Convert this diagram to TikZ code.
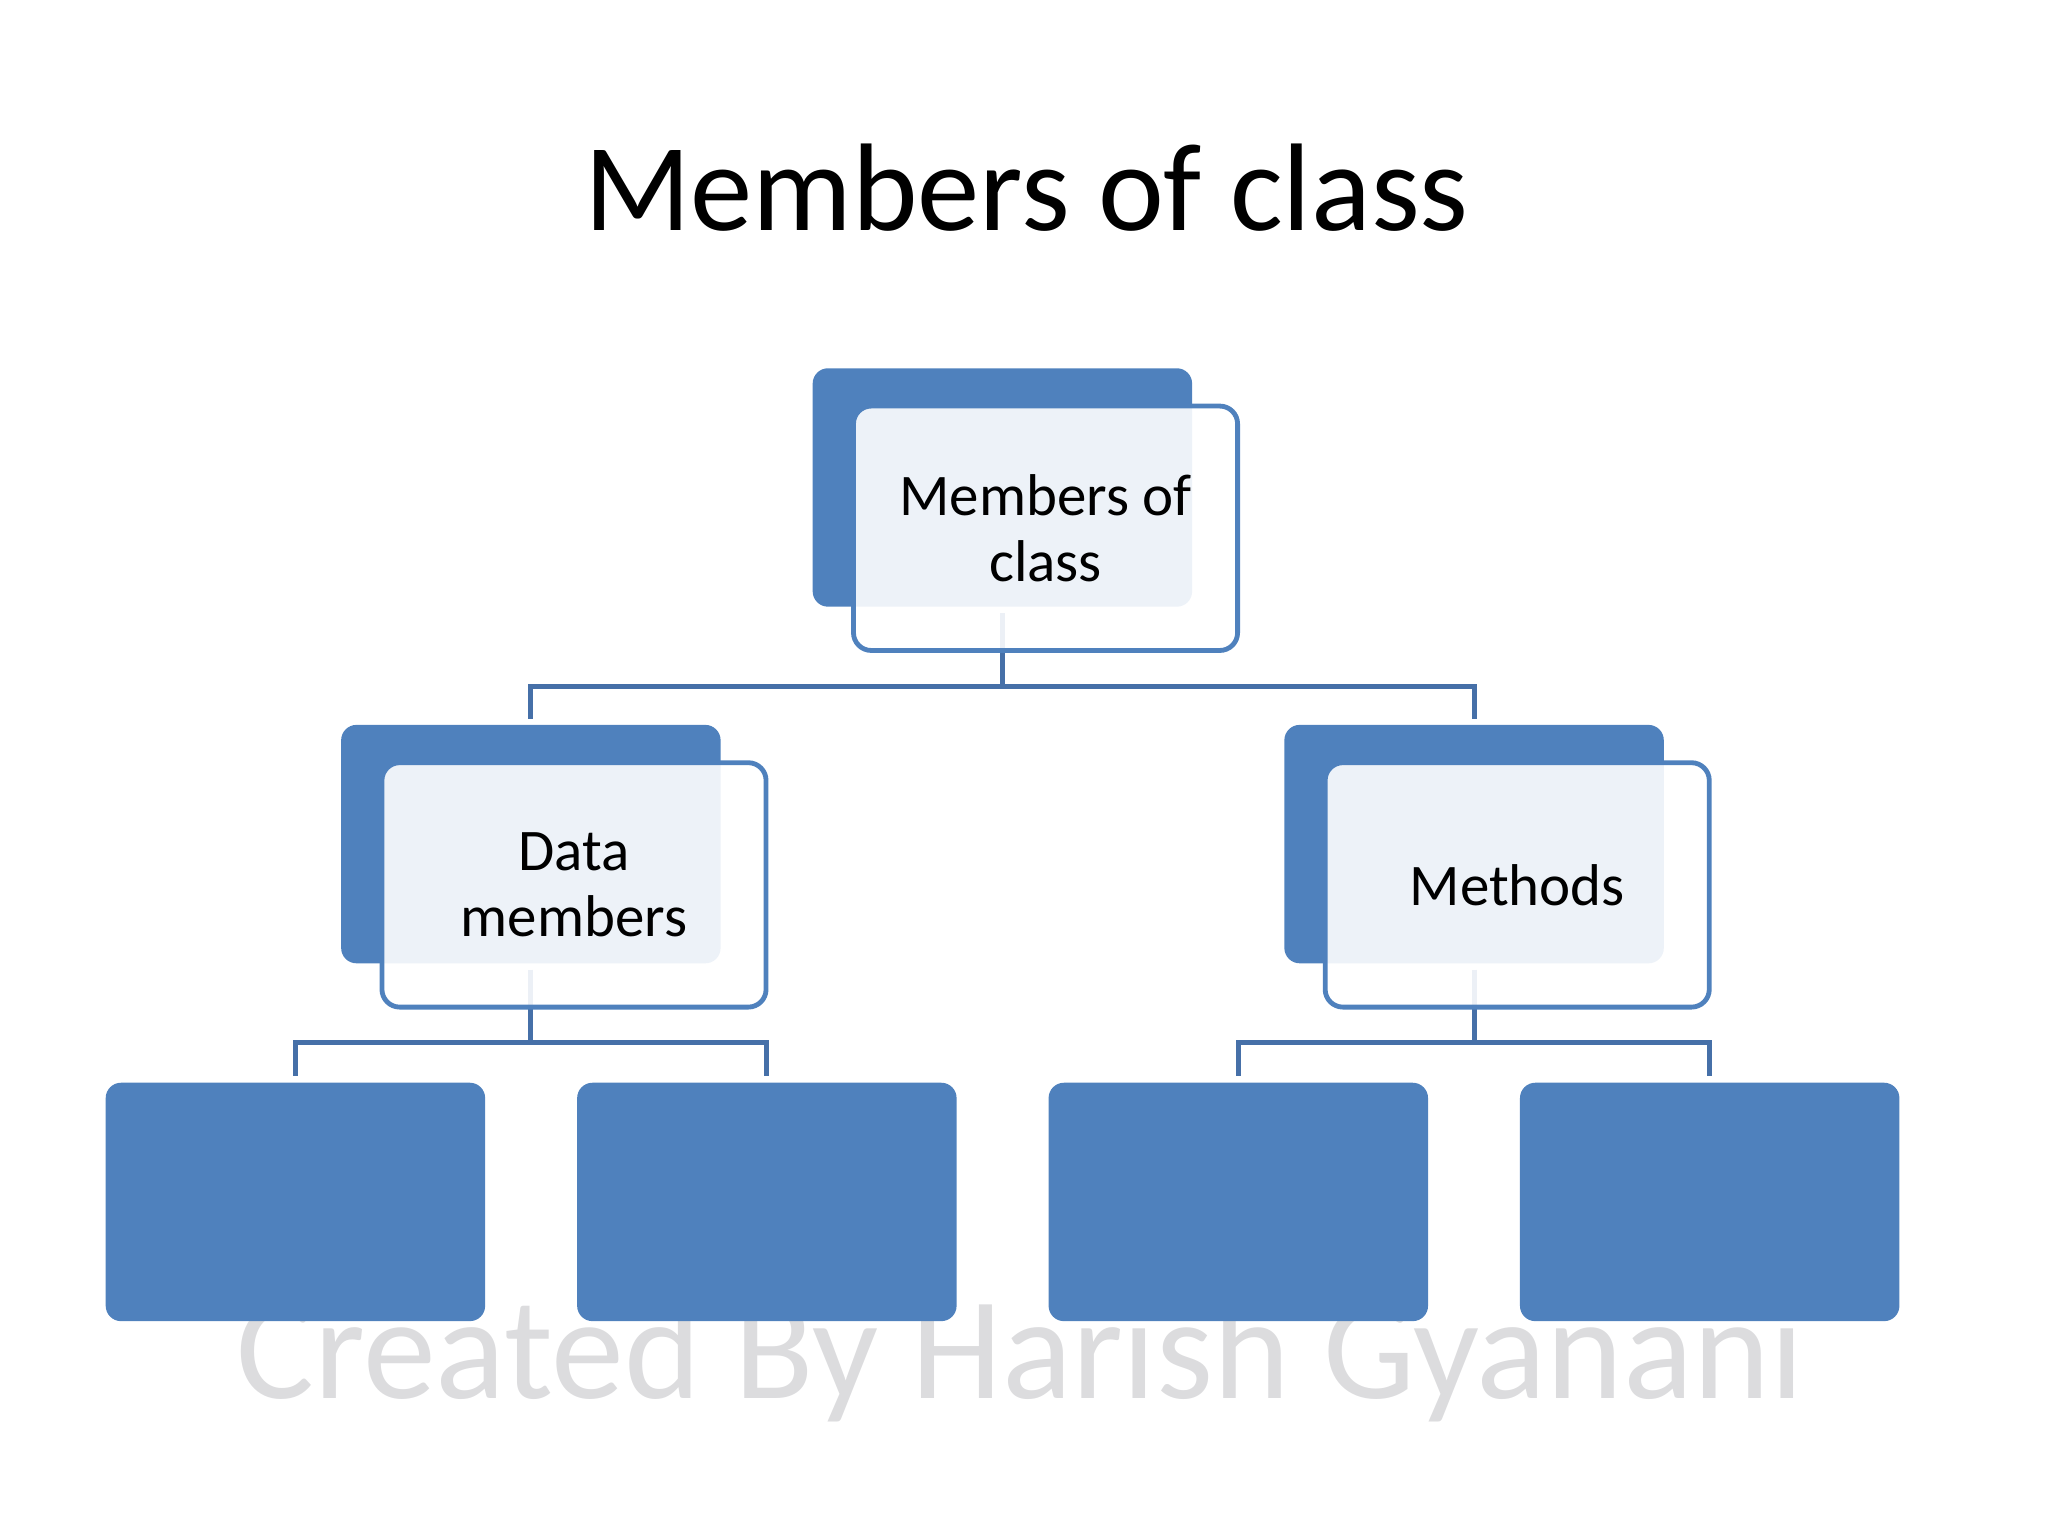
\documentclass[tikz,border=0pt]{standalone}
\usepackage{fontspec}
\setmainfont{Carlito}
\usetikzlibrary{calc}

\definecolor{boxblue}{RGB}{79,129,189}
\definecolor{lineblue}{RGB}{70,112,168}
\definecolor{markgray}{RGB}{220,220,222}

\begin{document}
\begin{tikzpicture}[
    darkbox/.style={fill=boxblue, rounded corners=0.19cm, minimum width=4.706cm, minimum height=2.957cm, inner sep=0pt},
    textbox/.style={
        draw=boxblue, line width=1.7pt,
        fill=white, fill opacity=0.9, text opacity=1,
        rounded corners=0.22cm,
        minimum width=4.764cm, minimum height=3.031cm, inner sep=0pt,
        align=center, font=\fontsize{20.8}{23.5}\selectfont
    },
    connector/.style={draw=lineblue, line width=1.7pt},
    ]

    \useasboundingbox (0,0) rectangle (25.4,19.05);

    % watermark goes first, the leaf boxes hide its top
    \node[anchor=base, text=markgray, font=\fontsize{51.5}{60}\selectfont] (mark) at (12.65,1.71) {Created By Harish Gyanani};

    \node[anchor=base, font=\fontsize{44}{53}\selectfont] (title) at (12.73,16.19) {Members of class};

    \node[darkbox] (cls) at (12.432,13.004) {};
    \node[darkbox] (dat) at (6.584,8.581) {};
    \node[darkbox] (met) at (18.282,8.581) {};
    \foreach \x [count=\i] in {3.664,9.511,15.358,21.204}
        \node[darkbox] (leaf\i) at (\x,4.143) {};

    % connectors, under the text boxes
    \draw[connector] ($(cls.south)+(0,-0.07)$) -- ++(0,-0.91) coordinate (bus0);
    \draw[connector] ($(dat.north)+(0,0.07)$) |- (bus0) -| ($(met.north)+(0,0.07)$);

    \draw[connector] ($(dat.south)+(0,-0.07)$) -- ++(0,-0.91) coordinate (bus1);
    \draw[connector] ($(leaf1.north)+(0,0.08)$) |- (bus1) -| ($(leaf2.north)+(0,0.08)$);

    \draw[connector] ($(met.south)+(0,-0.07)$) -- ++(0,-0.91) coordinate (bus2);
    \draw[connector] ($(leaf3.north)+(0,0.08)$) |- (bus2) -| ($(leaf4.north)+(0,0.08)$);

    \node[textbox] (clstext) at ($(cls)+(0.535,-0.506)$) {Members of\\class};
    \node[textbox] (dattext) at ($(dat)+(0.535,-0.506)$) {Data\\members};
    \node[textbox] (mettext) at ($(met)+(0.535,-0.506)$) {Methods};

\end{tikzpicture}
\end{document}
